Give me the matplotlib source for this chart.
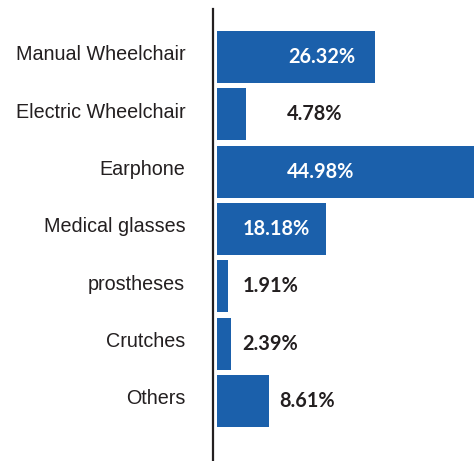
import matplotlib.pyplot as plt
import matplotlib.transforms as mtransforms

categories = ['Manual Wheelchair', 'Electric Wheelchair', 'Earphone', 'Medical glasses',
              'prostheses', 'Crutches', 'Others']
shares = [26.32, 4.78, 44.98, 18.18, 1.91, 2.39, 8.61]

# label placement (x in % units, white text inside the bar or dark text beside it)
label_x = [11.8, 11.7, 11.7, 4.3, 4.2, 4.2, 10.3]
label_inside = [True, False, True, True, False, False, False]

fig = plt.figure(figsize=(4.74, 4.61), dpi=100)
ax = fig.add_axes([213 / 474, 0, 1 - 213 / 474, 1 - 9 / 461])

pos = range(len(categories))
ax.barh(pos, shares, height=0.907, color='#1b60ab', zorder=2)

ax.set_xlim(-0.67, 42.83)
ax.set_ylim(7.047, -0.837)

for i, v in enumerate(shares):
    ax.text(label_x[i], i, f'{v:.2f}%', ha='left', va='center',
            fontsize=14.3, fontfamily='Lato', fontweight='bold',
            color='white' if label_inside[i] else '#231f20', zorder=3)

ax.set_yticks(list(pos))
ax.set_yticklabels(categories, fontsize=14.2, fontfamily='Liberation Sans', color='#231f20')
ax.tick_params(axis='y', length=0, pad=20)
ax.set_xticks([])

offset = mtransforms.ScaledTranslation(0, 4 / 100, fig.dpi_scale_trans)
for lab in ax.get_yticklabels():
    lab.set_transform(lab.get_transform() + offset)

for s in ['top', 'right', 'bottom']:
    ax.spines[s].set_visible(False)
ax.spines['left'].set_color('#231f20')
ax.spines['left'].set_linewidth(1.6)

fig.savefig('out.png', dpi=100)
